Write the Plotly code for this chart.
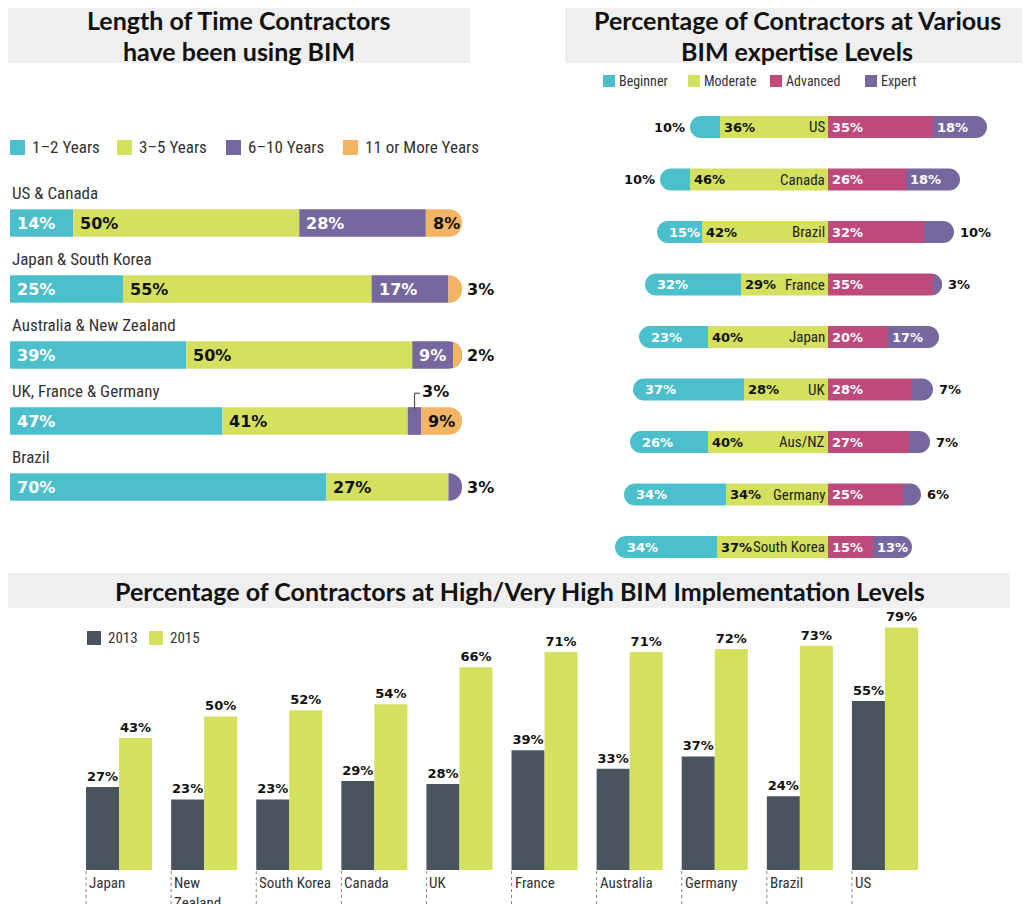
import plotly.graph_objects as go

W, H = 1024, 904


def px(x):
    return x / W


def py(y):
    return 1 - y / H


# ---------------- DATA ----------------
# Panel 1: length of time using BIM
tl_title = ["Length of Time Contractors", "have been using BIM"]
tl_groups = ["US & Canada", "Japan & South Korea", "Australia & New Zealand",
             "UK, France & Germany", "Brazil"]
tl_series = ["1–2 Years", "3–5 Years", "6–10 Years", "11 or More Years"]
tl_1_2 = [14, 25, 39, 47, 70]
tl_3_5 = [50, 55, 50, 41, 27]
tl_6_10 = [28, 17, 9, 3, 3]
tl_11p = [8, 3, 2, 9, 0]

# Panel 2: expertise levels
rp_title = ["Percentage of Contractors at Various", "BIM expertise Levels"]
rp_countries = ["US", "Canada", "Brazil", "France", "Japan", "UK", "Aus/NZ",
                "Germany", "South Korea"]
rp_series = ["Beginner", "Moderate", "Advanced", "Expert"]
rp_beginner = [10, 10, 15, 32, 23, 37, 26, 34, 34]
rp_moderate = [36, 46, 42, 29, 40, 28, 40, 34, 37]
rp_advanced = [35, 26, 32, 35, 20, 28, 27, 25, 15]
rp_expert = [18, 18, 10, 3, 17, 7, 7, 6, 13]

# Panel 3: high / very high implementation
bm_title = "Percentage of Contractors at High/Very High BIM Implementation Levels"
bm_countries = ["Japan", "New Zealand", "South Korea", "Canada", "UK", "France",
                "Australia", "Germany", "Brazil", "US"]
bm_labels = ["Japan", "New<br>Zealand", "South Korea", "Canada", "UK", "France",
             "Australia", "Germany", "Brazil", "US"]
bm_years = ["2013", "2015"]
bm_2013 = [27, 23, 23, 29, 28, 39, 33, 37, 24, 55]
bm_2015 = [43, 50, 52, 54, 66, 71, 71, 72, 73, 79]

# ---------------- STYLE ----------------
CYAN = "#4cbfcc"
LIME = "#d4e05e"
PURPLE = "#76679f"
ORANGE = "#f3b564"
MAGENTA = "#bd4a7b"
SLATE = "#4a545e"
BOXGRAY = "#efefef"

TITLE_FAMILY = "Lato, 'Open Sans', sans-serif"
TITLE_SIZE = 25
NARROW = "'Liberation Sans Narrow', 'Roboto Condensed', Roboto, sans-serif"
NUM = "'DejaVu Sans', sans-serif"

tl_colors = [CYAN, LIME, PURPLE, ORANGE]
rp_colors = [CYAN, LIME, MAGENTA, PURPLE]

fig = go.Figure()
shapes = []
annots = []


def ann(text, x, y, xref="paper", yref="paper", xanchor="center", yanchor="middle",
        size=14, color="#222", family=NARROW, xshift=0, yshift=0, bold=False, align="center"):
    if bold:
        text = "<b>" + text + "</b>"
    annots.append(dict(text=text, x=x, y=y, xref=xref, yref=yref, xanchor=xanchor,
                       yanchor=yanchor, showarrow=False, xshift=xshift, yshift=yshift,
                       align=align, font=dict(family=family, size=size, color=color)))


# ---------------- Title boxes ----------------
for (x0, y0, x1, y1) in [(8, 8, 470, 63), (565, 8, 1022, 63), (8, 573, 1010, 608)]:
    shapes.append(dict(type="rect", xref="paper", yref="paper", x0=px(x0), x1=px(x1),
                       y0=py(y1), y1=py(y0), fillcolor=BOXGRAY, line_width=0, layer="below"))
ann(tl_title[0], px(239), py(20), family=TITLE_FAMILY, size=TITLE_SIZE, color="#111", bold=True)
ann(tl_title[1], px(239), py(51), family=TITLE_FAMILY, size=TITLE_SIZE, color="#111", bold=True)
ann(rp_title[0], px(797), py(20), family=TITLE_FAMILY, size=TITLE_SIZE, color="#111", bold=True)
ann(rp_title[1], px(797), py(51), family=TITLE_FAMILY, size=TITLE_SIZE, color="#111", bold=True)
ann(bm_title, px(520), py(591), family=TITLE_FAMILY, size=TITLE_SIZE, color="#111", bold=True)

# ---------------- Panel 1 (stacked, rounded outer end) ----------------
tl_values = [tl_1_2, tl_3_5, tl_6_10, tl_11p]
n1 = len(tl_groups)
for name, vals, col in zip(tl_series, tl_values, tl_colors):
    fig.add_trace(go.Bar(
        orientation="h", name=name,
        x=[v if v > 0 else None for v in vals], y=tl_groups, width=0.42,
        marker=dict(color=col, line_width=0, cornerradius="50%"),
        xaxis="x", yaxis="y", showlegend=False, hoverinfo="skip"))

last_idx = [max(j for j in range(len(tl_values)) if tl_values[j][i] > 0) for i in range(n1)]
for i, g in enumerate(tl_groups):
    ann(g, 0, g, xref="x", yref="y", xanchor="left", size=17, color="#333", yshift=30)
    s = 0
    for j in range(len(tl_values)):
        v = tl_values[j][i]
        if v <= 0:
            continue
        txt = f"{v}%"
        if j == 0:
            ann(txt, s, g, xref="x", yref="y", xanchor="left", size=16, family=NUM,
                color="white", xshift=5, bold=True)
        elif j == 1:
            ann(txt, s, g, xref="x", yref="y", xanchor="left", size=16, family=NUM,
                color="#111", xshift=5, bold=True)
        else:
            incolor = "white" if j == 2 else "#111"
            if v >= 5:
                ann(txt, s, g, xref="x", yref="y", xanchor="left", size=16, family=NUM,
                    color=incolor, xshift=5, bold=True)
            elif last_idx[i] == j:
                ann(txt, s + v, g, xref="x", yref="y", xanchor="left", size=16, family=NUM,
                    color="#111", xshift=3, bold=True)
            else:
                # callout above the bar
                xc = s + v / 2
                shapes.append(dict(type="line", xref="x", yref="y", x0=xc, x1=xc,
                                   y0=i - 0.16, y1=i - 0.42, line=dict(color="#555", width=1.2)))
                shapes.append(dict(type="line", xref="x", yref="y", x0=xc, x1=xc + 1.2,
                                   y0=i - 0.42, y1=i - 0.42, line=dict(color="#555", width=1.2)))
                ann(txt, xc + 1.2, i - 0.44, xref="x", yref="y", xanchor="left", size=16,
                    family=NUM, color="#111", bold=True)
        s += v

# Panel 1 legend
tl_leg_sq = [10, 117, 226, 343]
for name, col, x0 in zip(tl_series, tl_colors, tl_leg_sq):
    shapes.append(dict(type="rect", xref="paper", yref="paper", x0=px(x0), x1=px(x0 + 15),
                       y0=py(155), y1=py(140), fillcolor=col, line_width=0))
    ann(name, px(x0 + 20), py(147), xanchor="left", size=17, color="#333")

# ---------------- Panel 2 (diverging, rounded both outer ends) ----------------
rp_defs = [
    (rp_series[1], [-m for m in rp_moderate], rp_colors[1]),
    (rp_series[0], [-v for v in rp_beginner], rp_colors[0]),
    (rp_series[2], rp_advanced, rp_colors[2]),
    (rp_series[3], rp_expert, rp_colors[3]),
]
for name, xs, col in rp_defs:
    fig.add_trace(go.Bar(
        orientation="h", name=name, x=xs, y=rp_countries, width=0.42,
        marker=dict(color=col, line_width=0, cornerradius="50%"),
        xaxis="x2", yaxis="y2", showlegend=False, hoverinfo="skip"))

for i, c in enumerate(rp_countries):
    b, m, a, e = rp_beginner[i], rp_moderate[i], rp_advanced[i], rp_expert[i]
    left_end = -(m + b)
    if b >= 12:
        ann(f"{b}%", left_end, c, xref="x2", yref="y2", xanchor="left", size=13,
            family=NUM, color="white", xshift=10, bold=True)
    else:
        ann(f"{b}%", left_end, c, xref="x2", yref="y2", xanchor="right", size=13,
            family=NUM, color="#111", xshift=-3, bold=True)
    ann(f"{m}%", -m, c, xref="x2", yref="y2", xanchor="left", size=13,
        family=NUM, color="#111", xshift=2, bold=True)
    ann(c, 0, c, xref="x2", yref="y2", xanchor="right", size=15, color="#222", xshift=-1)
    ann(f"{a}%", 0, c, xref="x2", yref="y2", xanchor="left", size=13,
        family=NUM, color="white", xshift=2, bold=True)
    if e >= 12:
        ann(f"{e}%", a, c, xref="x2", yref="y2", xanchor="left", size=13,
            family=NUM, color="white", xshift=2, bold=True)
    else:
        ann(f"{e}%", a + e, c, xref="x2", yref="y2", xanchor="left", size=13,
            family=NUM, color="#111", xshift=4, bold=True)

rp_leg_sq = [603, 688, 770, 865]
for name, col, x0 in zip(rp_series, rp_colors, rp_leg_sq):
    shapes.append(dict(type="rect", xref="paper", yref="paper", x0=px(x0), x1=px(x0 + 12),
                       y0=py(87), y1=py(75), fillcolor=col, line_width=0))
    ann(name, px(x0 + 14), py(81), xanchor="left", size=14, color="#333")

# ---------------- Panel 3 (grouped columns on two overlaid x axes) ----------------
BARGAP = 0.224
BW = (1 - BARGAP) / 2
for name, vals, col, xa, off in [(bm_years[0], bm_2013, SLATE, "x3", -BW),
                                 (bm_years[1], bm_2015, LIME, "x4", 0)]:
    fig.add_trace(go.Bar(
        name=name, x=bm_countries, y=vals, width=BW, offset=off,
        marker=dict(color=col, line_width=0),
        text=[f"{v}%" for v in vals], textposition="outside", cliponaxis=False,
        textfont=dict(family=NUM, size=13, color="#111", weight="bold"),
        xaxis=xa, yaxis="y3", showlegend=False, hoverinfo="skip"))

for i, (c, lab) in enumerate(zip(bm_countries, bm_labels)):
    xl = i - BW
    shapes.append(dict(type="line", xref="x3", yref="paper", x0=xl, x1=xl,
                       y0=0, y1=py(870), line=dict(color="#888", width=1, dash="dot")))
    ann(lab, xl, py(872), xref="x3", yref="paper", xanchor="left", yanchor="top",
        size=15, color="#333", xshift=1, align="left")

for name, col, x0 in zip(bm_years, [SLATE, LIME], [87, 149]):
    shapes.append(dict(type="rect", xref="paper", yref="paper", x0=px(x0), x1=px(x0 + 14),
                       y0=py(645), y1=py(631), fillcolor=col, line_width=0))
    ann(name, px(x0 + 19), py(638), xanchor="left", size=15, color="#333")

# ---------------- Layout ----------------
hidden = dict(visible=False, fixedrange=True)
cat3 = dict(domain=[px(76.5), px(927.5)], type="category", categoryarray=bm_countries,
            range=[-0.5, len(bm_countries) - 0.5], showticklabels=False, showline=False,
            showgrid=False, zeroline=False, ticks="", fixedrange=True)
fig.update_layout(
    width=W, height=H, margin=dict(l=0, r=0, t=0, b=0),
    paper_bgcolor="white", plot_bgcolor="rgba(0,0,0,0)",
    barmode="relative", showlegend=False, hovermode=False,
    xaxis=dict(domain=[px(10), px(462)], range=[0, 100], anchor="y", **hidden),
    yaxis=dict(domain=[py(520), py(190)], type="category", categoryarray=tl_groups,
               range=[4.5, -0.5], anchor="x", **hidden),
    xaxis2=dict(domain=[px(603), px(1008)], range=[-75, 60], anchor="y2", **hidden),
    yaxis2=dict(domain=[py(573.25), py(100.75)], type="category", categoryarray=rp_countries,
                range=[8.5, -0.5], anchor="x2", **hidden),
    xaxis3=dict(anchor="y3", **cat3),
    xaxis4=dict(anchor="y3", overlaying="x3", **cat3),
    yaxis3=dict(domain=[py(870), py(609)], range=[0, 85], anchor="x3", **hidden),
    shapes=shapes, annotations=annots,
)

fig.write_html("out.html", config={"displayModeBar": False},
               post_script="document.body.style.margin='0px';document.body.style.overflow='hidden';")
